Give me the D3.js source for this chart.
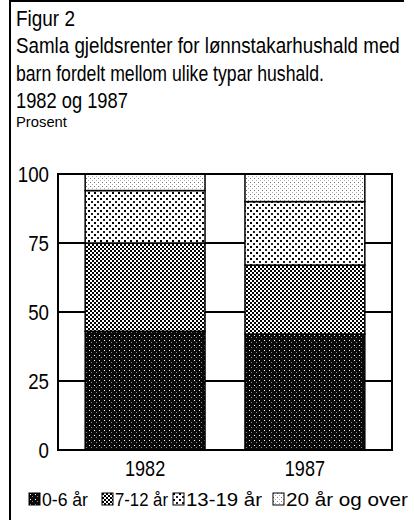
<!DOCTYPE html>
<html>
<head>
<meta charset="utf-8">
<script src="https://cdn.jsdelivr.net/npm/d3@7"></script>
<style>
  body { margin: 0; background: #fff; }
  svg { display: block; font-family: "Liberation Sans", Arial, sans-serif; }
</style>
</head>
<body>
<svg class="chart"></svg>
<script>
const years = ["1982", "1987"];
const groups = ["0-6 år", "7-12 år", "13-19 år", "20 år og over"];
const share1982 = [43, 32, 19, 6];
const share1987 = [42, 25, 23, 10];
const yTicks = [0, 25, 50, 75, 100];

// squeeze text horizontally, the original uses a narrow face
function squeeze(sel, k) {
    sel.each(function() {
        const w = this.getComputedTextLength();
        d3.select(this).attr("textLength", w * k).attr("lengthAdjust", "spacingAndGlyphs");
    });
}

// scale a left-anchored text so it ends up `w` px wide
function fitWidth(sel, x0, w) {
    sel.each(function(d, i) {
        const t = d3.select(this);
        const y0 = +t.attr("y");
        const k = w(d, i) / this.getComputedTextLength();
        t.attr("x", 0).attr("y", 0)
            .attr("transform", `translate(${x0},${y0}) scale(${k},1)`);
    });
}

function chart() {
    const W = 414, H = 520;
    const margin = {top: 174, right: 22, bottom: 70, left: 58},
        width = W - margin.left - margin.right,
        height = H - margin.top - margin.bottom;

    const svg = d3.select(".chart")
        .attr("width", W)
        .attr("height", H);

    // dot screens like the printed original
    const defs = svg.append("defs");
    const pat = (id, size, bg, dots) => {
        const p = defs.append("pattern").attr("id", id)
            .attr("patternUnits", "userSpaceOnUse")
            .attr("width", size).attr("height", size);
        p.append("rect").attr("width", size).attr("height", size).attr("fill", bg);
        dots.forEach(d => p.append("rect")
            .attr("x", d[0]).attr("y", d[1]).attr("width", d[2]).attr("height", d[2])
            .attr("fill", d[3]));
    };
    pat("p0", 5, "#0a0a0a", [[1, 1, 1, "#fff"], [3, 3, 1, "#888"]]);
    pat("p1", 4, "#fff", [[0, 0, 2, "#000"], [2, 2, 2, "#000"]]);
    pat("p2", 6, "#fff", [[0, 0, 2, "#000"], [3, 3, 2, "#222"]]);
    pat("p3", 4, "#fff", [[0, 0, 1, "#777"], [2, 2, 1, "#aaa"]]);
    const fills = ["url(#p0)", "url(#p1)", "url(#p2)", "url(#p3)"];

    // page frame: top and left rules
    svg.append("line").attr("x1", 10).attr("x2", 404).attr("y1", 1).attr("y2", 1)
        .attr("stroke", "#000").attr("stroke-width", 2);
    svg.append("line").attr("x1", 10).attr("x2", 10).attr("y1", 0).attr("y2", H)
        .attr("stroke", "#000").attr("stroke-width", 2);

    // text, baseline, size, width
    const titles = [
        ["Figur 2", 26, 22, 59],
        ["Samla gjeldsrenter for lønnstakarhushald med", 53, 22, 384],
        ["barn fordelt mellom ulike typar hushald.", 81, 22, 308],
        ["1982 og 1987", 108, 22, 112],
        ["Prosent", 127, 14, 51]
    ];
    svg.selectAll("text.title").data(titles).join("text")
        .attr("class", "title")
        .attr("y", d => d[1])
        .attr("font-size", d => d[2])
        .text(d => d[0])
        .call(fitWidth, 16, d => d[3]);

    const g = svg.append("g")
        .attr("transform", `translate(${margin.left}, ${margin.top})`);

    const x = d3.scaleBand()
        .range([0, width])
        .domain(years)
        .paddingInner(0.25)
        .paddingOuter(0.17);

    const y = d3.scaleLinear()
        .domain([0, 100])
        .range([height, 0]);

    // grid lines
    g.selectAll("line.grid").data(yTicks.slice(1, -1)).join("line")
        .attr("x1", 0).attr("x2", width)
        .attr("y1", d => y(d)).attr("y2", d => y(d))
        .attr("stroke", "#000").attr("stroke-width", 2);

    const rows = {"1982": share1982, "1987": share1987};
    const stack = d3.stack().keys(d3.range(groups.length))(
        years.map(yr => Object.assign({year: yr}, rows[yr])));

    g.selectAll("g.layer").data(stack).join("g")
        .attr("class", "layer")
        .attr("fill", (d, i) => fills[i])
        .selectAll("rect").data(d => d).join("rect")
        .attr("x", d => x(d.data.year))
        .attr("width", x.bandwidth())
        .attr("y", d => y(d[1]))
        .attr("height", d => y(d[0]) - y(d[1]))
        .attr("stroke", "#000")
        .attr("stroke-width", 1.5);

    g.append("rect")
        .attr("width", width).attr("height", height)
        .attr("fill", "none").attr("stroke", "#000").attr("stroke-width", 2);

    const yAxis = g.append("g")
        .call(d3.axisLeft(y).tickValues(yTicks).tickSize(0).tickPadding(9));
    yAxis.select(".domain").remove();
    yAxis.selectAll("text").attr("font-size", 22).attr("font-family", null).attr("fill", "#000")
        .call(squeeze, 0.85);

    const xAxis = g.append("g")
        .attr("transform", `translate(0,${height})`)
        .call(d3.axisBottom(x).tickSize(0).tickPadding(10));
    xAxis.select(".domain").remove();
    xAxis.selectAll("text").attr("font-size", 22).attr("font-family", null).attr("fill", "#000")
        .call(squeeze, 0.82);

    // legend
    const legX = [29, 102, 173, 273];
    const legW = [46, 53, 76, 122];
    const leg = svg.append("g").attr("transform", "translate(0, 493)");
    const item = leg.selectAll("g").data(groups).join("g")
        .attr("transform", (d, i) => `translate(${legX[i]}, 0)`);
    item.append("rect")
        .attr("width", 11).attr("height", 12)
        .attr("fill", (d, i) => fills[i])
        .attr("stroke", "#000").attr("stroke-width", 1);
    item.append("text")
        .attr("y", 13)
        .attr("font-size", 18)
        .text(d => d)
        .call(fitWidth, 13, (d, i) => legW[i]);
}
chart();
</script>
</body>
</html>
